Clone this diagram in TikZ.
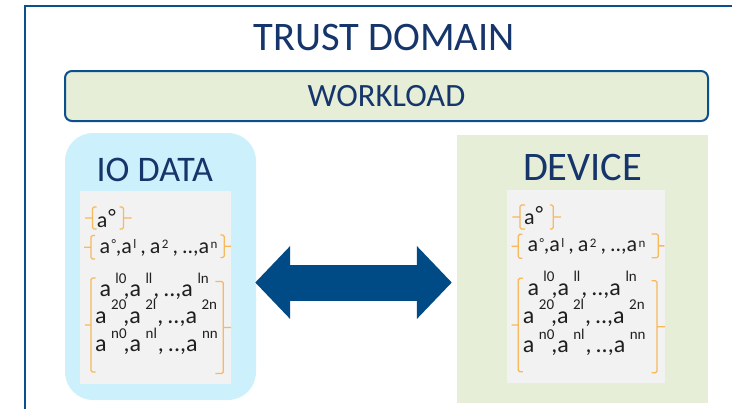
\documentclass[tikz,border=0pt]{standalone}
\usepackage{fontspec}
\setmainfont{Carlito}
\usetikzlibrary{arrows.meta,calc}

\definecolor{frameblue}{HTML}{0B4F8C}
\definecolor{titlenavy}{HTML}{15356B}
\definecolor{paleleaf}{HTML}{E6EED8}
\definecolor{paleaqua}{HTML}{CDF1FC}
\definecolor{panelgrey}{HTML}{F2F2F2}
\definecolor{arrowblue}{HTML}{004A86}
\definecolor{braceorange}{HTML}{F8B85C}

% small raised index (vector row) and large raised index (matrix rows)
\newcommand\supsmall[1]{\kern1.5pt\smash{\raisebox{4.5pt}{\fontsize{13}{13}\selectfont #1}}}
\newcommand\suplarge[1]{\kern4.5pt\smash{\raisebox{13.5pt}{\fontsize{15}{15}\selectfont #1}}\kern-3pt}
\newcommand\gap{\kern4pt}

% bracket drawn with straight strokes: x, top, bottom, hook length, tick length
\newcommand\leftbrace[5]{%
  \draw[brace] (#1+#4,#2) -- (#1,#2) -- (#1,#3) -- (#1+#4,#3)
               (#1,{(#2+#3)/2}) -- (#1-#5,{(#2+#3)/2});}
\newcommand\rightbrace[5]{%
  \draw[brace] (#1-#4,#2) -- (#1,#2) -- (#1,#3) -- (#1-#4,#3)
               (#1,{(#2+#3)/2}) -- (#1+#5,{(#2+#3)/2});}

\tikzset{
  heading/.style={text=titlenavy, inner sep=0pt, anchor=base},
  panel/.style={inner sep=0pt, draw=none},
  vecline/.style={text=black!88, inner sep=0pt, anchor=base west,
    font=\fontsize{22}{22}\selectfont},
  matline/.style={text=black!88, inner sep=0pt, anchor=base west,
    font=\fontsize{24}{24}\selectfont},
  brace/.style={draw=braceorange, line width=1.3pt, rounded corners=1.5pt},
  bigtip/.tip={Triangle[length=35pt, width=71pt]},
}

\begin{document}
\begin{tikzpicture}[x=1pt, y=-1pt]
  \useasboundingbox (0,0) rectangle (732,408);
  \clip (0,0) rectangle (732,408);

  % trust domain frame (open to the right and bottom)
  \draw[frameblue, line width=2.5pt] (25,430) -- (25,6) -- (760,6);
  \node[heading, font=\fontsize{40.5}{40.5}\selectfont] (title) at (384,50.7) {TRUST DOMAIN};

  % workload bar
  \node[panel, draw=frameblue, line width=2pt, fill=paleleaf, rounded corners=7pt,
        minimum width=643pt, minimum height=50pt, text=titlenavy,
        font=\fontsize{32.5}{32.5}\selectfont] (workload) at (386.5,96) {WORKLOAD};

  % io data panel
  \node[panel, fill=paleaqua, rounded corners=28pt,
        minimum width=191pt, minimum height=267pt] (io) at (160.5,266.5) {};
  \node[panel, fill=panelgrey, minimum width=151pt, minimum height=193pt] (iogrey) at (155.5,287.5) {};
  \node[heading, font=\fontsize{36}{36}\selectfont] (iotitle) at (154.7,181.7) {IO DATA};

  % device panel
  \node[panel, fill=paleleaf, minimum width=251pt, minimum height=268pt] (device) at (582.5,269) {};
  \node[panel, fill=panelgrey, minimum width=158pt, minimum height=193pt] (devgrey) at (586,286.5) {};
  \node[heading, font=\fontsize{40.5}{40.5}\selectfont] (devtitle) at (582.7,180) {DEVICE};

  % two-way transfer between io data and device
  \draw[arrowblue, line width=36pt, bigtip-bigtip]
    ($(io.east)+(-1,16)$) -- ($(device.west)+(-5,13.5)$);

  % io data contents
  \node[vecline] (ioscalar) at (96.7,227.3) {a\kern1pt\raisebox{3pt}{°}};
  \node[vecline] (iovector) at (99.3,253.3)
    {a\supsmall{°},a\supsmall{l}\gap,\gap a\supsmall{2}\gap,\gap..,a\supsmall{n}};
  \node[matline] (iorowa) at (99.3,296.7) {a\suplarge{l0},a\suplarge{ll}\gap,\gap..,a\suplarge{ln}};
  \node[matline] (iorowb) at (95,323.3) {a\suplarge{20},a\suplarge{2l}\gap,\gap..,a\suplarge{2n}};
  \node[matline] (iorowc) at (95,351.7) {a\suplarge{n0},a\suplarge{nl}\gap,\gap..,a\suplarge{nn}};
  \leftbrace{92.5}{207}{229}{4}{7.5}
  \rightbrace{123.5}{207}{229}{4}{8}
  \leftbrace{91}{235.5}{259}{4}{7}
  \rightbrace{224.3}{235}{257.5}{4}{6.7}
  \leftbrace{91}{278}{372}{4.5}{6}
  \rightbrace{223.3}{281.5}{373.5}{8}{7.7}

  % device contents
  \node[vecline] (devscalar) at (524,224.3) {a\kern1pt\raisebox{3pt}{°}};
  \node[vecline] (devvector) at (527.3,251.7)
    {a\supsmall{°},a\supsmall{l}\gap,\gap a\supsmall{2}\gap,\gap..,a\supsmall{n}};
  \node[matline] (devrowa) at (527.3,295) {a\suplarge{l0},a\suplarge{ll}\gap,\gap..,a\suplarge{ln}};
  \node[matline] (devrowb) at (522.7,323.3) {a\suplarge{20},a\suplarge{2l}\gap,\gap..,a\suplarge{2n}};
  \node[matline] (devrowc) at (522.7,352.7) {a\suplarge{n0},a\suplarge{nl}\gap,\gap..,a\suplarge{nn}};
  \leftbrace{520}{205}{229}{5}{7.7}
  \rightbrace{553.3}{205}{229}{3.3}{7.7}
  \leftbrace{518.3}{234.3}{258.3}{4}{6.6}
  \rightbrace{658.3}{234}{257.7}{6.6}{6}
  \leftbrace{518.3}{278.3}{371.7}{4.5}{6.6}
  \rightbrace{657}{280.7}{372.7}{5.3}{8}
\end{tikzpicture}
\end{document}
